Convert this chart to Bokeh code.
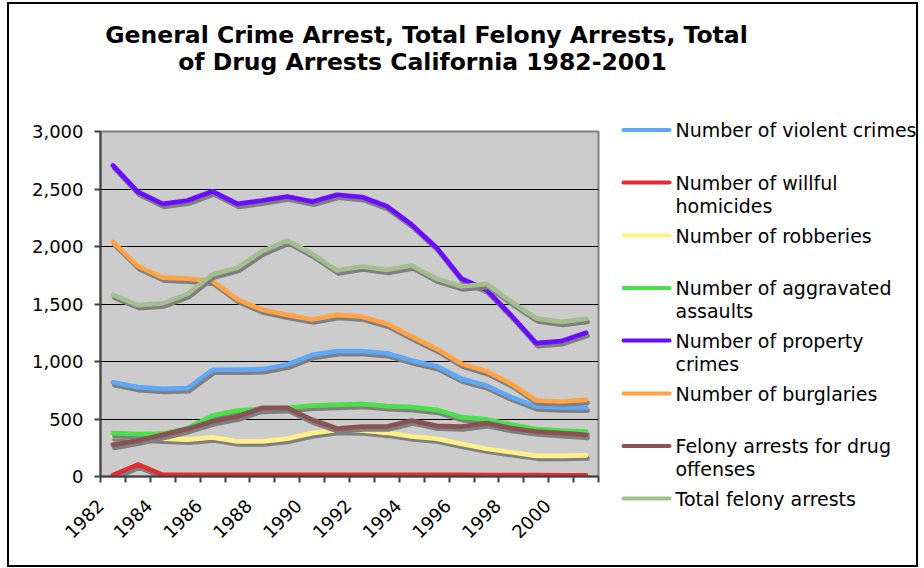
import math
from bokeh.plotting import figure
from bokeh.layouts import column, row
from bokeh.models import FixedTicker, NumeralTickFormatter, Range1d
from bokeh.core.properties import value
from bokeh.embed import file_html
from bokeh.resources import INLINE

# ---------------- data ----------------
years = ["1982", "1983", "1984", "1985", "1986", "1987", "1988", "1989", "1990", "1991",
         "1992", "1993", "1994", "1995", "1996", "1997", "1998", "1999", "2000", "2001"]

violent_crimes = [820, 777, 762, 768, 928, 930, 933, 974, 1058, 1090,
                  1090, 1072, 1009, 959, 849, 791, 690, 609, 600, 598]
willful_homicides = [12, 104, 14, 14, 14, 14, 14, 14, 14, 15,
                     15, 15, 15, 15, 14, 13, 12, 12, 11, 11]
robberies = [350, 340, 330, 320, 340, 305, 305, 328, 377, 406,
             400, 380, 348, 328, 284, 241, 211, 180, 180, 183]
aggravated_assaults = [377, 368, 372, 420, 530, 574, 588, 597, 617, 623,
                       632, 612, 603, 580, 516, 496, 452, 412, 400, 391]
property_crimes = [2705, 2475, 2370, 2400, 2480, 2370, 2400, 2435, 2390, 2450,
                   2430, 2350, 2190, 1990, 1720, 1625, 1400, 1160, 1177, 1250]
burglaries = [2040, 1830, 1730, 1720, 1700, 1540, 1450, 1405, 1365, 1405,
              1390, 1328, 1217, 1110, 980, 916, 806, 661, 652, 667]
drug_felony_arrests = [275, 313, 362, 414, 481, 522, 597, 597, 493, 417,
                       435, 435, 487, 441, 435, 464, 420, 391, 377, 362]
total_felony_arrests = [1580, 1490, 1505, 1588, 1757, 1815, 1960, 2052, 1936, 1791,
                        1826, 1797, 1835, 1719, 1652, 1675, 1520, 1375, 1345, 1370]

y_ticks = [0, 500, 1000, 1500, 2000, 2500, 3000]

title_lines = ["General Crime Arrest, Total Felony Arrests, Total",
               "of Drug Arrests California 1982-2001"]

series_labels = [
    ["Number of violent crimes"],
    ["Number of willful", "homicides"],
    ["Number of robberies"],
    ["Number of aggravated", "assaults"],
    ["Number of property", "crimes"],
    ["Number of burglaries"],
    ["Felony arrests for drug", "offenses"],
    ["Total felony arrests"],
]
series_values = [violent_crimes, willful_homicides, robberies, aggravated_assaults,
                 property_crimes, burglaries, drug_felony_arrests, total_felony_arrests]
series_colors = ["#5FA8F8", "#DD2E33", "#FFF08A", "#4BDF4B",
                 "#6A0DFF", "#FFA346", "#8A5252", "#A3BF8F"]

FONT = "DejaVu Sans"
SHADOW = "#7F7F7F"

# ---------------- title strip (pixel-like ranges) ----------------
tf = figure(width=907, height=100, output_backend="svg", toolbar_location=None,
            x_range=Range1d(9, 916), y_range=Range1d(104, 4),
            x_axis_location=None, y_axis_location=None,
            min_border=0, min_border_left=0, min_border_right=0,
            min_border_top=0, min_border_bottom=0)
tf.frame_align = False
tf.grid.visible = False
tf.outline_line_color = None
tf.background_fill_color = "white"
tf.text(x=[426, 422], y=[34, 61], text=title_lines, text_font=value(FONT),
        text_font_size=value("23.5px"), text_font_style="bold", text_align="center",
        text_baseline="middle", text_color="black")

# ---------------- main plot ----------------
p = figure(width=591, height=461, output_backend="svg", toolbar_location=None,
           x_range=Range1d(-0.5, 19.5), y_range=Range1d(0, 3000),
           min_border_left=91, min_border_right=2, min_border_top=27,
           min_border_bottom=89)
p.background_fill_color = "#CCCCCC"
p.border_fill_color = "white"
p.outline_line_color = "#808080"
p.outline_line_width = 2

xs = list(range(len(years)))
dx, dy = 0.06, 26  # shadow offset (about 1.5px right, 3px down)
for vals, col in zip(series_values, series_colors):
    p.line([x + dx for x in xs], [v - dy for v in vals], line_color=SHADOW,
           line_width=4.7, line_cap="round", line_join="round")
    p.line(xs, vals, line_color=col, line_width=4.7, line_cap="round", line_join="round")

label_pos = [max(i - 0.55, -0.499) for i in xs[::2]]
p.xaxis.ticker = FixedTicker(ticks=label_pos, minor_ticks=[i - 0.5 for i in range(len(years) + 1)])
p.xaxis.major_label_overrides = {lp: years[i] for lp, i in zip(label_pos, xs[::2])}
p.xaxis.major_tick_out = 0
p.xaxis.major_tick_in = 0
p.xaxis.minor_tick_out = 6
p.xaxis.minor_tick_in = 0
p.xaxis.major_label_orientation = math.pi / 4
p.xaxis.major_label_standoff = 20
p.xgrid.visible = False

p.yaxis.ticker = FixedTicker(ticks=y_ticks, minor_ticks=[])
p.yaxis.formatter = NumeralTickFormatter(format="0,0")
p.yaxis.major_tick_out = 6
p.yaxis.major_tick_in = 0
p.yaxis.minor_tick_out = 0
p.yaxis.minor_tick_in = 0
p.yaxis.major_label_standoff = 11
p.ygrid.grid_line_color = "black"
p.ygrid.grid_line_width = 1

for ax in (p.xaxis[0], p.yaxis[0]):
    ax.axis_line_color = "#404040"
    ax.axis_line_width = 2
    ax.major_tick_line_color = "#404040"
    ax.minor_tick_line_color = "#404040"
    ax.major_tick_line_width = 2
    ax.minor_tick_line_width = 2
    ax.major_label_text_font = FONT
    ax.major_label_text_font_size = "18px"
    ax.major_label_text_color = "black"

# ---------------- legend panel (pixel-like ranges, own frame) ----------------
lg = figure(width=316, height=461, output_backend="svg", toolbar_location=None,
            x_range=Range1d(600, 916), y_range=Range1d(565, 104),
            x_axis_location=None, y_axis_location=None,
            min_border=0, min_border_left=0, min_border_right=0,
            min_border_top=0, min_border_bottom=0)
lg.frame_align = False
lg.grid.visible = False
lg.outline_line_color = None
lg.background_fill_color = "white"

legend_y = [129.5, 182, 235, 287.5, 340, 393, 445.5, 498]
txt_x, txt_y, txt_s = [], [], []
for lines, col, ly in zip(series_labels, series_colors, legend_y):
    lg.line([623, 669], [ly, ly], line_color=col, line_width=4, line_cap="round")
    for k, t in enumerate(lines):
        txt_x.append(675)
        txt_y.append(ly + 23.3 * k)
        txt_s.append(t)
lg.text(x=txt_x, y=txt_y, text=txt_s, text_font=value(FONT), text_font_size=value("19px"),
        text_align="left", text_baseline="middle", text_color="black")

layout = column(tf, row(p, lg),
                styles={"border": "2px solid black", "margin-left": "7px", "margin-top": "2px"})

open("out.html", "w").write(file_html(layout, INLINE))
